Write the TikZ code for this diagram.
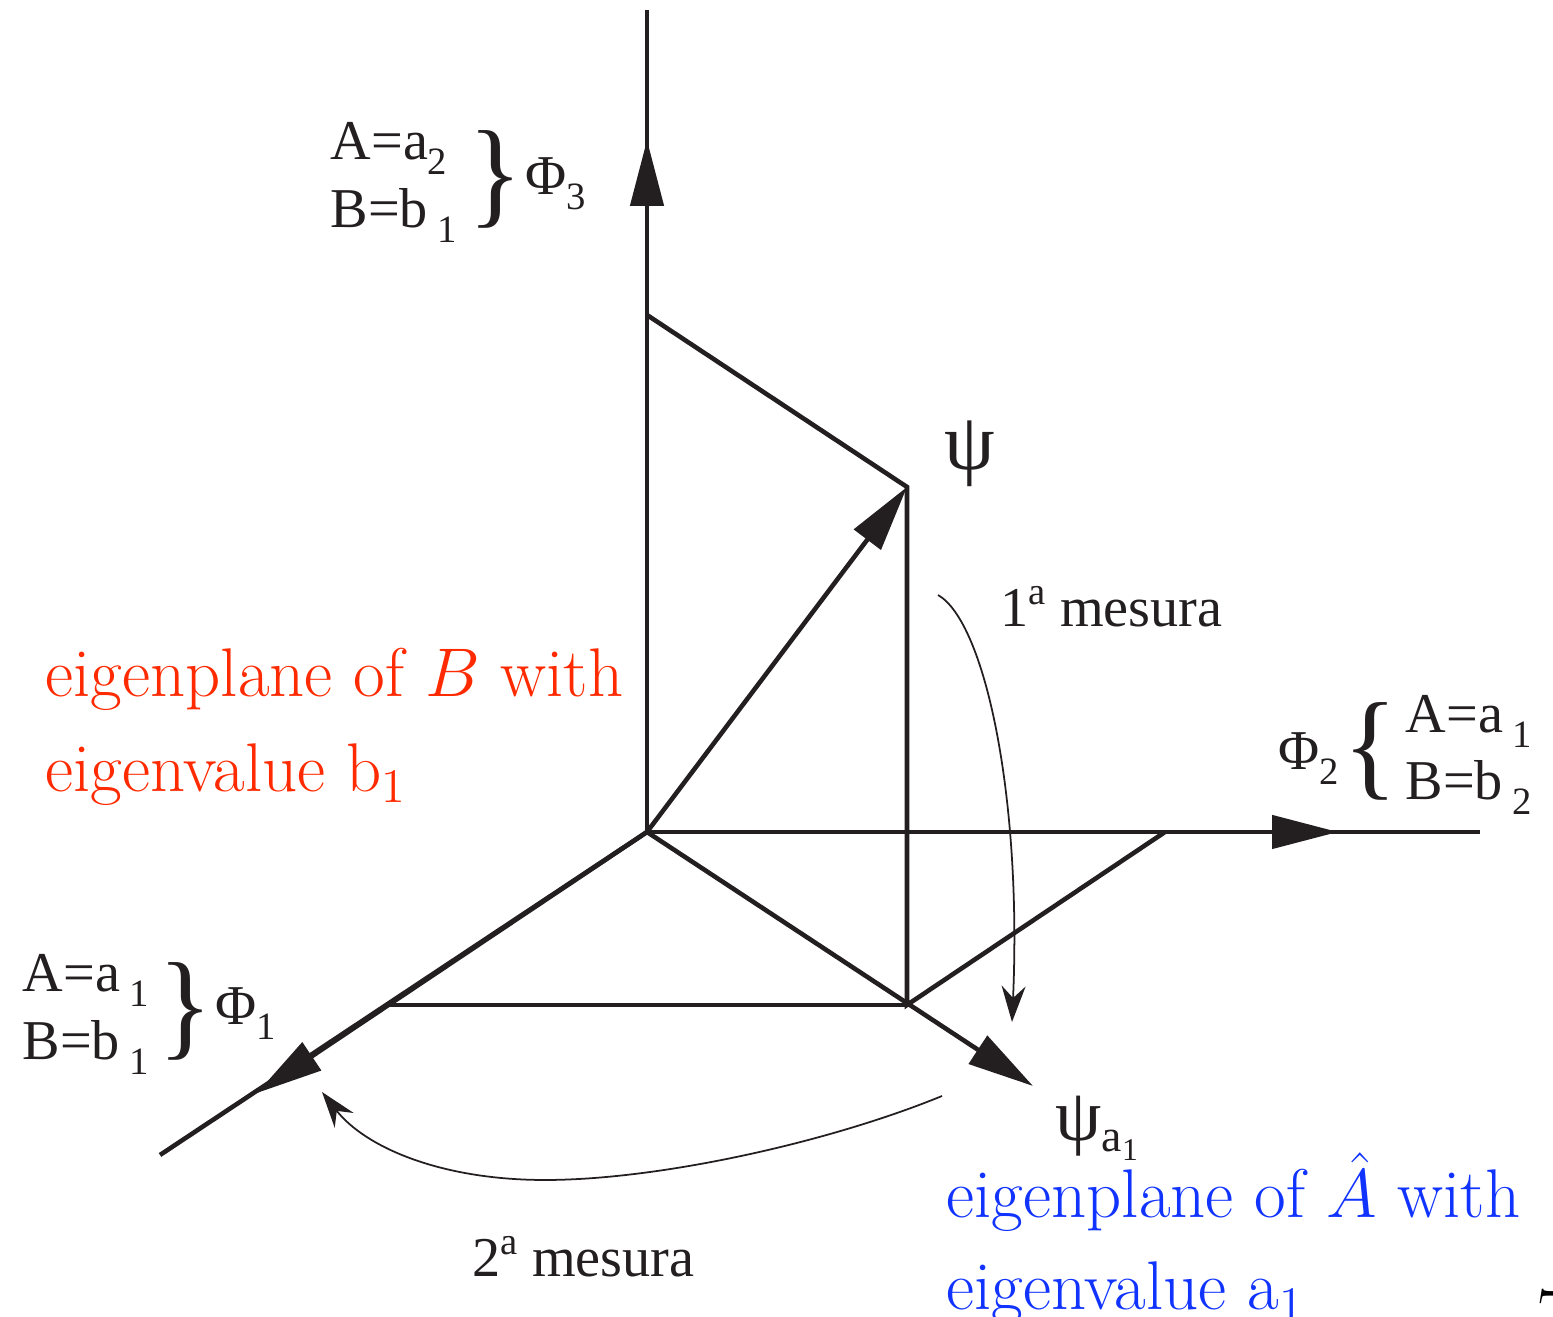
\RequirePackage{fix-cm}
\documentclass[tikz,border=0pt]{standalone}
\usepackage{fontspec}
\usepackage{tikz}
\usetikzlibrary{arrows.meta,positioning}
\newfontfamily\tms{Liberation Serif}
\definecolor{inkBlack}{HTML}{231F20}
\definecolor{planeRed}{HTML}{FF2A00}
\definecolor{planeBlue}{HTML}{1133FF}
\newcommand{\lo}[1]{\raisebox{-4pt}{\fontsize{11}{11}\selectfont #1}}
\newcommand{\hi}[1]{\raisebox{6.5pt}{\fontsize{11}{11}\selectfont #1}}
\newcommand{\rbrc}{\scalebox{2.0}[2.1]{\}}}
\newcommand{\lbrc}{\scalebox{2.0}[2.1]{\{}}

\begin{document}
\begin{tikzpicture}[
        axis/.style={inkBlack, line width=1.3pt},
        head/.style={inkBlack, line width=1.3pt, -{Triangle[length=0.66cm, width=0.33cm]}},
        turn/.style={inkBlack, line width=0.5pt, -{Stealth[length=0.36cm, width=0.24cm, inset=0.12cm]}},
        lbl/.style={text=inkBlack, inner sep=0pt, anchor=base west, font=\tms\fontsize{16}{19}\selectfont},
        brc/.style={text=inkBlack, inner sep=0pt, font=\tms\fontsize{16}{19}\selectfont},
        plane/.style={inner sep=0pt, anchor=base west, font=\fontsize{19.6}{27}\selectfont}]
        \useasboundingbox (0,0) rectangle (15.53,13.17);

        % points
        \coordinate (O) at (6.47,4.85);
        \coordinate (zend) at (6.47,13.07);
        \coordinate (ztip) at (6.47,11.77);
        \coordinate (xend) at (14.80,4.85);
        \coordinate (xtip) at (13.38,4.85);
        \coordinate (yend) at (1.60,1.62);
        \coordinate (ytip) at (2.57,2.24);
        \coordinate (pz) at (6.47,10.02);
        \coordinate (px) at (11.65,4.85);
        \coordinate (py) at (3.85,3.12);
        \coordinate (psi) at (9.07,8.30);
        \coordinate (psia) at (9.07,3.12);
        \coordinate (atip) at (10.33,2.31);

        % axes and projections
        \draw[axis] (O) -- (zend);
        \draw[axis] (O) -- (xend);
        \draw[axis] (O) -- (yend);
        \draw[axis] (pz) -- (psi) -- (psia) -- (px);
        \draw[axis] (py) -- (psia);
        \foreach \t in {ztip,xtip,ytip,psi,atip} {
            \draw[head] (O) -- (\t);
        }

        % measurements
        \coordinate (m1s) at (9.38,7.22);
        \coordinate (m1e) at (10.12,2.95);
        \coordinate (m2s) at (9.42,2.21);
        \coordinate (m2m) at (5.45,1.37);
        \coordinate (m2e) at (3.22,2.25);
        \draw[turn] (m1s) .. controls (9.85,6.95) and (10.22,5.2) .. (m1e);
        \draw[turn] (m2s) .. controls (8.3,1.75) and (6.6,1.37) .. (m2m)
            .. controls (4.4,1.37) and (3.65,1.7) .. (m2e);
        \node[lbl] (mes1) at (10.00,6.90) {1\hi{a} mesura};
        \node[lbl] (mes2) at (4.72,0.40) {2\hi{a} mesura};

        % basis labels
        \node[lbl] (a3) at (3.30,11.57) {A=a\lo{2}};
        \node[lbl] (b3) at (3.30,10.89) {B=b\,\lo{1}};
        \node[brc] (br3) at (4.95,11.38) {\rbrc};
        \node[lbl] (phi3) at (5.25,11.22) {Φ\lo{3}};

        \node[lbl] (phi2) at (12.78,5.47) {Φ\lo{2}};
        \node[brc] (br2) at (13.70,5.66) {\lbrc};
        \node[lbl] (a2) at (14.05,5.84) {A=a\,\lo{1}};
        \node[lbl] (b2) at (14.05,5.17) {B=b\,\lo{2}};

        \node[lbl] (a1) at (0.22,3.25) {A=a\,\lo{1}};
        \node[lbl] (b1) at (0.22,2.57) {B=b\,\lo{1}};
        \node[brc] (br1) at (1.85,3.06) {\rbrc};
        \node[lbl] (phi1) at (2.15,2.92) {Φ\lo{1}};

        \node[lbl, anchor=center, font=\tms\fontsize{23}{26}\selectfont] (psilbl) at (9.70,8.63) {ψ};
        \node[lbl, font=\tms\fontsize{21}{24}\selectfont] (psialbl) at (10.55,1.76)
            {ψ\raisebox{-3pt}{\fontsize{13}{13}\selectfont a\raisebox{-2.5pt}{\fontsize{9}{9}\selectfont 1}}};

        % eigenplanes
        \node[plane, text=planeRed] (redA) at (0.45,6.20) {eigenplane of $B$ with};
        \node[plane, text=planeRed] (redB) at (0.45,5.25) {eigenvalue b$_1$};
        \node[plane, text=planeBlue] (blueA) at (9.46,0.99) {eigenplane of $\hat{A}$ with};
        \node[plane, text=planeBlue] (blueB) at (9.46,0.07) {eigenvalue a$_1$};

        \node[inner sep=0pt, anchor=north west, font=\fontsize{22}{22}\selectfont] (pg) at (15.36,0.29) {7};
    \end{tikzpicture}
\end{document}
